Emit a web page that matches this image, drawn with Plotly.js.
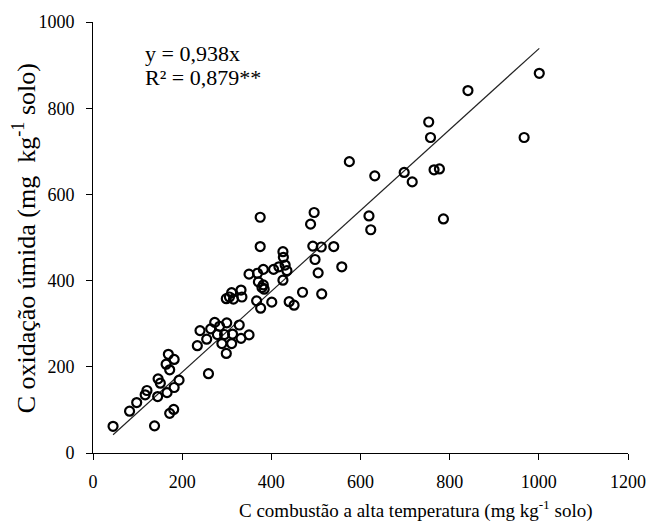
<!DOCTYPE html>
<html>
<head>
<meta charset="utf-8">
<script src="https://cdn.plot.ly/plotly-3.0.1.min.js"></script>
<style>html,body{margin:0;padding:0;background:#fff;}#chart{width:655px;height:528px;}</style>
</head>
<body>
<div id="chart"></div>
<script>
// C combustão a alta temperatura (mg kg-1 solo)
const combustao = [45, 82, 98, 117, 121, 138, 145, 146, 151, 166, 164, 169, 172, 172, 181, 182, 182, 193,
  234, 240, 255, 259, 264, 273, 279, 284, 289, 299, 300, 311, 313, 295, 328, 332, 350,
  299, 306, 311, 315, 332, 334,
  350, 367, 369, 371, 375, 375, 376, 379, 382, 382, 384, 401, 405, 417, 426, 427, 426, 431, 435, 440, 451, 470,
  488, 496, 493, 498, 505, 512, 513, 540, 558, 575, 619, 623, 632, 698, 716, 753, 757, 765, 777, 786, 841, 967, 1001];
// C oxidação úmida (mg kg-1 solo)
const oxidacao = [62, 97, 117, 135, 145, 63, 131, 172, 162, 140, 206, 229, 193, 92, 101, 152, 217, 169,
  249, 284, 264, 184, 288, 303, 275, 294, 254, 231, 302, 254, 276, 275, 297, 266, 274,
  358, 362, 372, 357, 378, 362,
  415, 353, 417, 397, 547, 479, 336, 384, 390, 426, 380, 350, 426, 432, 467, 454, 401, 436, 423, 351, 343, 373,
  531, 558, 480, 449, 418, 478, 369, 479, 432, 676, 550, 518, 643, 651, 629, 768, 732, 657, 659, 543, 841, 732, 881];
const slope = 0.938;
const eqText = "y = 0,938x";
const r2Text = "R² = 0,879**";
const xTitle = "C combustão a alta temperatura (mg kg<sup>-1</sup> solo)";
const yTitle = "C oxidação úmida (mg&nbsp; kg<sup>-1</sup> solo)";
const xTicks = [0, 200, 400, 600, 800, 1000, 1200];
const yTicks = [0, 200, 400, 600, 800, 1000];

const xMin = Math.min(...combustao), xMax = Math.max(...combustao);
const fitX = [xMin, xMax];
const fitY = fitX.map(v => slope * v);

const font = "'Liberation Serif', 'Times New Roman', serif";
const traces = [
  {x: fitX, y: fitY, mode: "lines", type: "scatter", line: {color: "#222", width: 1.2}, hoverinfo: "skip"},
  {x: combustao, y: oxidacao, mode: "markers", type: "scatter",
   marker: {symbol: "circle-open", size: 9, color: "#000", line: {color: "#000", width: 2.2}}}
];
const axisCommon = {
  showgrid: false, zeroline: false, showline: true, linecolor: "#000", linewidth: 1,
  ticks: "outside", ticklen: 6, tickcolor: "#000", tickwidth: 1,
  tickfont: {family: font, size: 18, color: "#000"}
};
const layout = {
  width: 655, height: 528,
  margin: {l: 93, r: 27, t: 22, b: 75},
  paper_bgcolor: "#fff", plot_bgcolor: "#fff",
  showlegend: false,
  font: {family: font, color: "#000"},
  xaxis: Object.assign({}, axisCommon, {
    range: [0, 1200], tickvals: xTicks, ticktext: xTicks.map(String), ticklabelstandoff: 6
  }),
  yaxis: Object.assign({}, axisCommon, {
    range: [0, 1000], tickvals: yTicks, ticktext: yTicks.map(String), ticklabelstandoff: 8
  }),
  annotations: [
    {xref: "paper", yref: "paper", x: 0.604, y: -0.132, xanchor: "center", yanchor: "middle", showarrow: false,
     text: xTitle, font: {family: font, size: 19, color: "#000"}},
    {xref: "paper", yref: "paper", x: -0.128, y: 0.497, xanchor: "center", yanchor: "middle", showarrow: false,
     textangle: -90, text: yTitle, font: {family: font, size: 26, color: "#000"}},
    {xref: "paper", yref: "paper", x: 0.093, y: 0.926, xanchor: "left", yanchor: "middle", showarrow: false,
     text: eqText, font: {family: font, size: 22, color: "#000"}},
    {xref: "paper", yref: "paper", x: 0.093, y: 0.871, xanchor: "left", yanchor: "middle", showarrow: false,
     text: r2Text, font: {family: font, size: 22, color: "#000"}}
  ]
};
Plotly.newPlot("chart", traces, layout, {displayModeBar: false, staticPlot: true});
</script>
</body>
</html>
